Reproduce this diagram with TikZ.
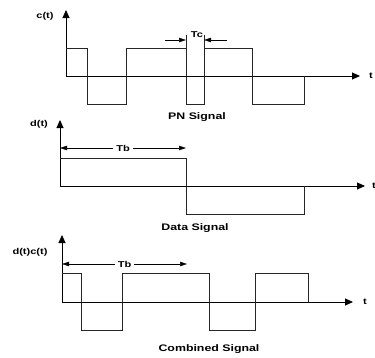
\documentclass[tikz,border=0pt]{standalone}
\usepackage{fontspec}
\setmainfont[FakeStretch=1.3]{Liberation Sans}
\usetikzlibrary{arrows.meta}

\begin{document}
\begin{tikzpicture}[
  x=1pt, y=-1pt,
  font=\fontsize{9.5}{11}\bfseries\selectfont,
  >={Triangle[length=7pt,width=4.5pt]},
  %% line styles
  axis/.style   = {line width=0.9pt, -{Triangle[length=8pt,width=7pt]}},
  sig/.style    = {line width=0.7pt, black!85},
  dimarr/.style = {line width=0.5pt, <->},
  onearr/.style = {line width=0.5pt, ->},
  lbl/.style    = {font=\fontsize{8.5}{10}\bfseries\selectfont, inner sep=1pt},
  signame/.style= {inner sep=1pt},
]

\useasboundingbox (0,0) rectangle (375,357);

%% ── PN signal ─────────────────────────────────────────────
\coordinate (o1) at (66,76);
\coordinate (y1) at (66,10);
\coordinate (t1) at (360,76);
\draw[axis] (o1) -- (y1);
\draw[axis] (o1) -- (t1);
\node[lbl] (ylab1) at (45,16) {c(t)};
\node[lbl] (tlab1) at (371,76) {t};

\draw[sig] (66,48) -| (87,104) -| (126,48) -| (186,104) -| (204,48) -| (252,104) -| (304,76);

% chip width
\coordinate (tcl) at (186,40);
\coordinate (tcr) at (204,40);
\draw[sig, line width=0.5pt] (186,48) -- (186,35);
\draw[sig, line width=0.5pt] (204,48) -- (204,35);
\draw[onearr] (165,40) -- (tcl);
\draw[onearr] (227,40) -- (tcr);
\node[lbl] (tc) at (197,35) {Tc};

\node[signame] (pn) at (197,117) {PN Signal};

%% ── Data signal ───────────────────────────────────────────
\coordinate (o2) at (60,186);
\coordinate (y2) at (60,120);
\coordinate (t2) at (365,186);
\draw[axis] (o2) -- (y2);
\draw[axis] (o2) -- (t2);
\node[lbl] (ylab2) at (39,124) {d(t)};
\node[lbl] (tlab2) at (374,186) {t};

\draw[sig] (60,158) -| (186,214) -| (304,186);

\coordinate (tb1l) at (60,148);
\coordinate (tb1r) at (186,148);
\draw[dimarr] (tb1l) -- node[lbl, fill=white, inner xsep=3pt] (tb1) {Tb} (tb1r);

\node[signame] (data) at (195,228) {Data Signal};

%% ── Combined signal ───────────────────────────────────────
\coordinate (o3) at (62,302);
\coordinate (y3) at (62,235);
\coordinate (t3) at (353,302);
\draw[axis] (o3) -- (y3);
\draw[axis] (o3) -- (t3);
\node[lbl] (ylab3) at (30,252) {d(t)c(t)};
\node[lbl] (tlab3) at (365,302) {t};

\draw[sig] (62,273) -| (81,330) -| (122,273) -| (209,330) -| (255,273) -| (308,302);

\coordinate (tb2l) at (62,264);
\coordinate (tb2r) at (187,264);
\draw[dimarr] (tb2l) -- node[lbl, fill=white, inner xsep=3pt] (tb2) {Tb} (tb2r);

\node[signame] (comb) at (209,349) {Combined Signal};

\end{tikzpicture}
\end{document}
